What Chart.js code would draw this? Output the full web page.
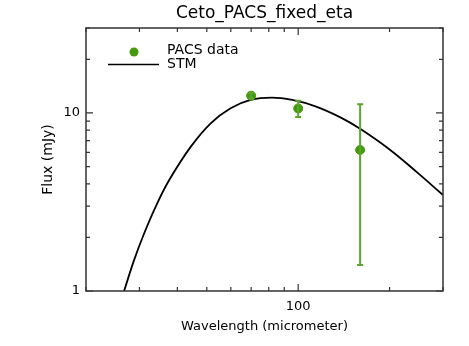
<!DOCTYPE html>
<html lang="en">
<head>
    <meta charset="UTF-8">
    <title>Ceto_PACS_fixed_eta</title>
    <script src="https://cdn.jsdelivr.net/npm/chart.js"></script>
    <style>
        body { margin: 0; background: #fff; }
        canvas { display: block; }
    </style>
</head>
<body>
    <canvas id="sedChart" width="469" height="346"></canvas>

    <script>
        const chartTitle = 'Ceto_PACS_fixed_eta';

        // PACS photometry (micrometer, mJy)
        const pacsWave = [70, 100, 160];
        const pacsFlux = [12.5, 10.6, 6.2];
        const pacsErrLow = [12.0, 9.5, 1.4];
        const pacsErrHigh = [13.0, 11.7, 11.2];

        // STM model curve
        const stmWave = [26.7, 28.8, 31.1, 34.0, 37.6, 44.3, 51.5, 59.9, 69.7, 82, 95.6, 114, 137.8, 160, 201, 246, 300];
        const stmFlux = [1.0, 1.49, 2.11, 3.0, 4.2, 6.47, 8.75, 10.63, 11.83, 12.2, 11.83, 10.9, 9.45, 8.15, 6.2, 4.65, 3.46];

        const xTicks = [20, 30, 40, 50, 60, 70, 80, 90, 100, 200, 300];
        const yTicks = [1, 2, 3, 4, 5, 6, 7, 8, 9, 10, 20, 30];
        const xMajor = [100];
        const yMajor = [1, 10];

        const green = '#45990f';
        const axisColor = '#333';
        const font = 'DejaVu Sans';

        // error bars, title, plot frame with inward ticks, and the legend
        const decorPlugin = {
            id: 'decor',
            afterDatasetsDraw(chart) {
                const ctx = chart.ctx;
                const x = chart.scales.x, y = chart.scales.y;
                ctx.save();
                ctx.strokeStyle = '#5aa52a';
                ctx.lineWidth = 2;
                pacsWave.forEach((w, i) => {
                    const px = x.getPixelForValue(w);
                    const lo = y.getPixelForValue(pacsErrLow[i]);
                    const hi = y.getPixelForValue(pacsErrHigh[i]);
                    ctx.beginPath();
                    ctx.moveTo(px, lo); ctx.lineTo(px, hi);
                    ctx.moveTo(px - 3, lo); ctx.lineTo(px + 3, lo);
                    ctx.moveTo(px - 3, hi); ctx.lineTo(px + 3, hi);
                    ctx.stroke();
                });
                ctx.restore();
            },
            afterDraw(chart) {
                const ctx = chart.ctx;
                const a = chart.chartArea;
                const x = chart.scales.x, y = chart.scales.y;
                ctx.save();

                ctx.fillStyle = '#000';
                ctx.font = '17px "' + font + '"';
                ctx.textAlign = 'center';
                ctx.textBaseline = 'middle';
                ctx.fillText(chartTitle, (a.left + a.right) / 2, 14);

                ctx.strokeStyle = axisColor;
                ctx.lineWidth = 1.5;
                ctx.strokeRect(a.left, a.top, a.right - a.left, a.bottom - a.top);

                ctx.lineWidth = 1.2;
                ctx.beginPath();
                xTicks.forEach(v => {
                    const px = x.getPixelForValue(v);
                    const len = xMajor.includes(v) ? 7 : 4;
                    ctx.moveTo(px, a.bottom); ctx.lineTo(px, a.bottom - len);
                    ctx.moveTo(px, a.top); ctx.lineTo(px, a.top + len);
                });
                yTicks.forEach(v => {
                    const py = y.getPixelForValue(v);
                    const len = yMajor.includes(v) ? 7 : 4;
                    ctx.moveTo(a.left, py); ctx.lineTo(a.left + len, py);
                    ctx.moveTo(a.right, py); ctx.lineTo(a.right - len, py);
                });
                ctx.stroke();

                // legend
                ctx.font = '14px "' + font + '"';
                ctx.textAlign = 'left';
                ctx.fillStyle = green;
                ctx.beginPath();
                ctx.arc(134, 52, 4.5, 0, Math.PI * 2);
                ctx.fill();
                ctx.fillStyle = '#000';
                ctx.fillText(chart.data.datasets[0].label, 167, 50);
                ctx.strokeStyle = '#000';
                ctx.lineWidth = 1.5;
                ctx.beginPath();
                ctx.moveTo(108, 64.5); ctx.lineTo(159, 64.5);
                ctx.stroke();
                ctx.fillText(chart.data.datasets[1].label, 167, 64);
                ctx.restore();
            }
        };

        new Chart(document.getElementById('sedChart'), {
            type: 'scatter',
            data: {
                datasets: [{
                    label: 'PACS data',
                    data: pacsWave.map((w, i) => ({ x: w, y: pacsFlux[i] })),
                    backgroundColor: green,
                    borderColor: green,
                    pointRadius: 4.5,
                    order: 0
                }, {
                    label: 'STM',
                    type: 'line',
                    data: stmWave.map((w, i) => ({ x: w, y: stmFlux[i] })),
                    borderColor: '#000',
                    borderWidth: 1.8,
                    pointRadius: 0,
                    fill: false,
                    tension: 0.4,
                    order: 1
                }]
            },
            options: {
                responsive: false,
                animation: false,
                layout: { padding: { left: 0, right: 26, top: 28, bottom: 0 } },
                plugins: {
                    legend: { display: false },
                    tooltip: { enabled: false },
                    title: { display: false }
                },
                scales: {
                    x: {
                        type: 'logarithmic',
                        min: 20,
                        max: 300,
                        afterBuildTicks: s => { s.ticks = xTicks.map(v => ({ value: v })); },
                        afterFit: s => { s.height = 55; },
                        grid: { display: false, drawTicks: false },
                        border: { display: false },
                        ticks: {
                            autoSkip: false,
                            maxRotation: 0,
                            padding: 8,
                            color: '#000',
                            font: { family: font, size: 13 },
                            callback: v => xMajor.includes(v) ? String(v) : ''
                        },
                        title: {
                            display: true,
                            text: 'Wavelength (micrometer)',
                            color: '#000',
                            font: { family: font, size: 13 },
                            padding: { top: 0, bottom: 12 }
                        }
                    },
                    y: {
                        type: 'logarithmic',
                        min: 1,
                        max: 30,
                        afterBuildTicks: s => { s.ticks = yTicks.map(v => ({ value: v })); },
                        afterFit: s => { s.width = 86; },
                        grid: { display: false, drawTicks: false },
                        border: { display: false },
                        ticks: {
                            autoSkip: false,
                            padding: 6,
                            color: '#000',
                            font: { family: font, size: 13 },
                            callback: v => yMajor.includes(v) ? String(v) : ''
                        },
                        title: {
                            display: true,
                            text: 'Flux (mJy)',
                            color: '#000',
                            font: { family: font, size: 14 },
                            padding: { top: 40, bottom: 0 }
                        }
                    }
                }
            },
            plugins: [decorPlugin]
        });
    </script>
</body>
</html>
